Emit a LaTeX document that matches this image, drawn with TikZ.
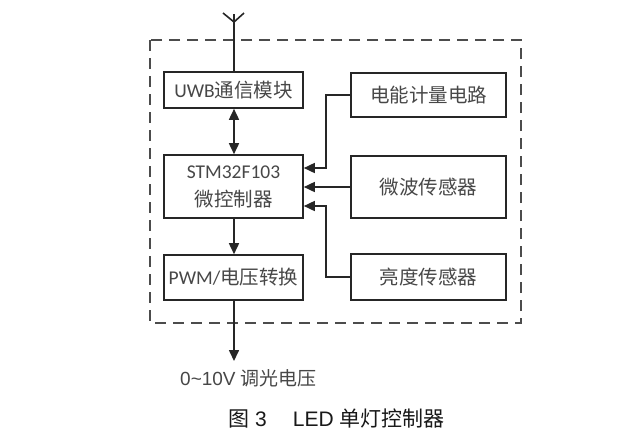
\documentclass[tikz,border=0pt]{standalone}
\usepackage{fontspec}
\setmainfont{Carlito}
\newfontfamily\cjk{Noto Sans CJK SC}
\newfontfamily\arialf{Liberation Sans}
\usetikzlibrary{arrows.meta}
\begin{document}
\begin{tikzpicture}[x=1pt,y=-1pt,
  blk/.style={draw=black!85, line width=1.6pt, minimum width=139pt, inner sep=0pt,
    font=\fontsize{19.5}{28}\selectfont, text=black!72, align=center},
  rblk/.style={blk, minimum width=155pt},
  conn/.style={line width=1.6pt, draw=black!85},
  tip/.style={-{Triangle[length=11pt,width=10pt]}},
  dtip/.style={{Triangle[length=11pt,width=10pt]}-{Triangle[length=11pt,width=10pt]}},
  lbl/.style={font=\fontsize{19}{22}\selectfont, text=black!72, inner sep=0pt}
]
\useasboundingbox[fill=white] (0,0) rectangle (634,440);

% dashed enclosure
\draw[black!70, line width=1.5pt, dash pattern=on 11pt off 7pt] (150,40) rectangle (521,323);

% left column
\node[blk, minimum height=36pt] (uwb) at (233.5,90) {UWB{\cjk 通信模块}};
\node[blk, minimum height=63pt] (mcu) at (233.5,186.5) {STM32F103\\{\cjk 微控制器}};
\node[blk, minimum height=45pt] (pwm) at (233.5,277.5) {PWM/{\cjk 电压转换}};

% right column
\node[rblk, minimum height=44pt] (meter) at (428.5,95) {\cjk 电能计量电路};
\node[rblk, minimum height=62pt] (micro) at (428.5,187) {\cjk 微波传感器};
\node[rblk, minimum height=46pt] (light) at (428.5,277) {\cjk 亮度传感器};

% antenna
\coordinate (ant) at (234,14);
\coordinate (antj) at (234,22);
\coordinate (antl) at (223,13);
\coordinate (antr) at (244,13);
\draw[conn] (uwb.north -| ant) -- (ant);
\draw[conn] (antl) -- (antj) -- (antr);

% connectors
\draw[conn, dtip] (uwb.south -| ant) -- (mcu.north -| ant);
\draw[conn, tip] (mcu.south -| ant) -- (pwm.north -| ant);
\coordinate (out) at (234,361);
\draw[conn, tip] (pwm.south -| ant) -- (out);

\coordinate (m1) at (326,95);
\coordinate (m2) at (326,168);
\draw[conn, tip] (meter.west) -- (m1) -- (m2) -- (mcu.east |- m2);
\draw[conn, tip] (micro.west) -- (mcu.east |- micro.west);
\coordinate (l1) at (326,277);
\coordinate (l2) at (326,206);
\draw[conn, tip] (light.west) -- (l1) -- (l2) -- (mcu.east |- l2);

% labels
\node[lbl, anchor=west] (outlbl) at (180,378) {\arialf 0\textasciitilde 10V {\cjk 调光电压}};
\node[font=\fontsize{21}{24}\selectfont, text=black!90, inner sep=0pt, anchor=west] (cap) at (228,418) {{\cjk 图}\hspace{6pt}\arialf 3\hspace{26pt}LED {\cjk 单灯控制器}};
\end{tikzpicture}
\end{document}
